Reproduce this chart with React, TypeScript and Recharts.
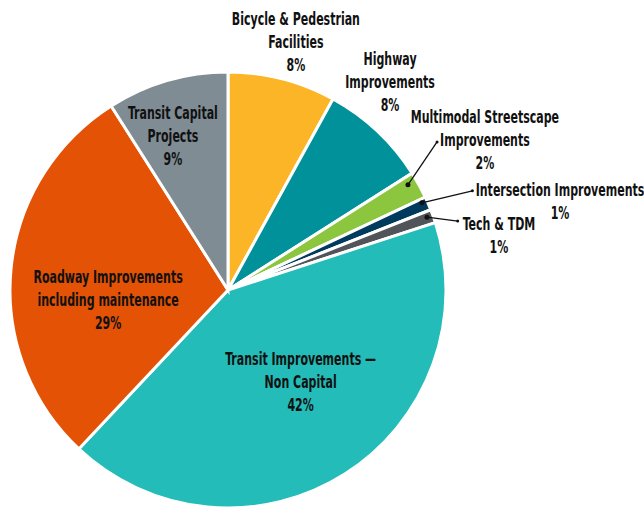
import React from 'react';
import { PieChart, Pie, Cell } from 'recharts';

const categories = [
  'Bicycle & Pedestrian\nFacilities',
  'Highway\nImprovements',
  'Multimodal Streetscape\nImprovements',
  'Intersection Improvements',
  'Tech & TDM',
  'Transit Improvements —\nNon Capital',
  'Roadway Improvements\nincluding maintenance',
  'Transit Capital\nProjects',
];
const shares = [8, 8, 2, 1, 1, 42, 29, 9];
const colors = ['#FBB526', '#00919A', '#8CC63F', '#003A5D', '#515458', '#23BCB8', '#E35205', '#7F8C93'];

const data = categories.map((name, i) => ({ name, value: shares[i] }));

// label placement relative to slice mid-angle: angle shift (deg), radius factor, optional leader line
const placement = [
  { da: -0.9, rf: 1.18 },
  { da: 5.3, rf: 1.21 },
  { da: 1.5, rf: 1.365, lead: { a0: 30.3, r0: 0.956, a1: 35.3, r1: 1.175 } },
  { da: -8.5, rf: 1.576, lead: { a0: 24.2, r0: 0.975, a1: 22.1, r1: 1.21 } },
  { da: -8.4, rf: 1.268, lead: { a0: 20.1, r0: 0.972, a1: 16.7, r1: 1.1 } },
  { da: 5.7, rf: 0.54 },
  { da: 10.2, rf: 0.552 },
  { da: 3.5, rf: 0.75 },
];

const RAD = Math.PI / 180;
const FONT = "'DejaVu Sans Condensed', 'DejaVu Sans', sans-serif";
const FONT_SIZE = 17.5;
const SX = 0.7; // squeeze to mimic the condensed face
const LINE_H = 23;

const polar = (cx: number, cy: number, r: number, a: number) => ({
  x: cx + r * Math.cos(a * RAD),
  y: cy - r * Math.sin(a * RAD),
});

const renderLabel = (props: any) => {
  const { cx, cy, midAngle, outerRadius, index, name, value } = props;
  const p = placement[index];
  const pos = polar(cx, cy, outerRadius * p.rf, midAngle + p.da);
  const lines = [...String(name).split('\n'), `${value}%`];
  const top = pos.y - ((lines.length - 1) * LINE_H) / 2;
  let lead = null;
  if (p.lead) {
    const s = polar(cx, cy, outerRadius * p.lead.r0, p.lead.a0);
    const e = polar(cx, cy, outerRadius * p.lead.r1, p.lead.a1);
    lead = (
      <g>
        <line x1={s.x} y1={s.y} x2={e.x} y2={e.y} stroke="#111" strokeWidth={1.3} />
        <circle cx={s.x} cy={s.y} r={2.5} fill="#111" />
        <circle cx={e.x} cy={e.y} r={1.5} fill="#111" />
      </g>
    );
  }
  return (
    <g>
      {lead}
      <g transform={`translate(${pos.x},${top}) scale(${SX},1)`}>
        <text
          x={0}
          y={0}
          textAnchor="middle"
          dominantBaseline="central"
          fill="#111"
          fontFamily={FONT}
          fontWeight="bold"
          fontSize={FONT_SIZE}
        >
          {lines.map((l, i) => (
            <tspan key={i} x={0} dy={i === 0 ? 0 : LINE_H}>
              {l}
            </tspan>
          ))}
        </text>
      </g>
    </g>
  );
};

export default function App() {
  return (
    <div style={{ position: 'absolute', left: 0, top: 0, width: 644, height: 510, background: '#fff' }}>
      <PieChart width={644} height={510} margin={{ top: 0, right: 0, bottom: 0, left: 0 }}>
        <Pie
          data={data}
          dataKey="value"
          nameKey="name"
          cx={228}
          cy={290}
          outerRadius={218}
          startAngle={90}
          endAngle={-270}
          stroke="#fff"
          strokeWidth={3}
          label={renderLabel}
          labelLine={false}
          isAnimationActive={false}
        >
          {data.map((d, i) => (
            <Cell key={d.name} fill={colors[i]} />
          ))}
        </Pie>
      </PieChart>
    </div>
  );
}
